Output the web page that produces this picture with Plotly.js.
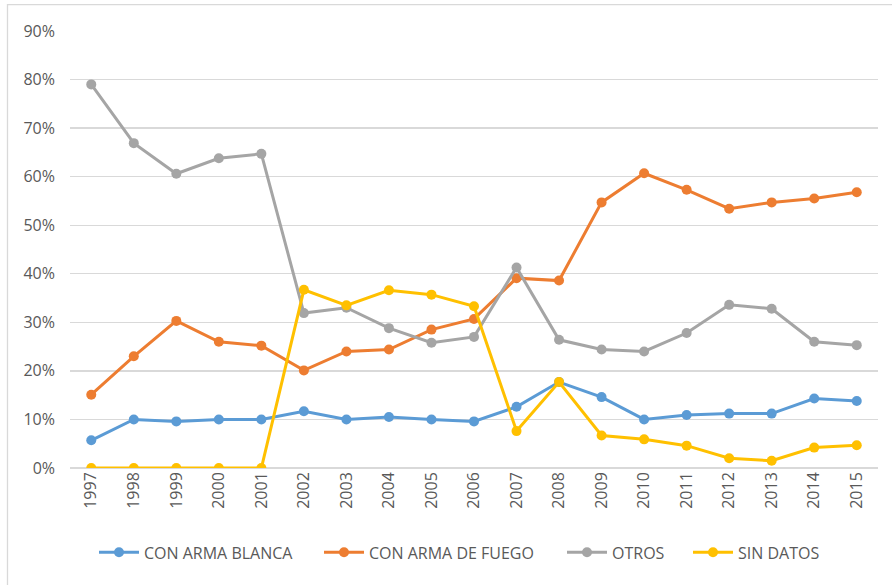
<!DOCTYPE html>
<html>
<head>
<meta charset="utf-8">
<script src="https://cdn.plot.ly/plotly-3.0.1.min.js"></script>
<style>
html,body{margin:0;padding:0;background:#fff;}
#chart{width:892px;height:585px;}
</style>
</head>
<body>
<div id="chart"></div>
<script>
const years = ["1997","1998","1999","2000","2001","2002","2003","2004","2005","2006","2007","2008","2009","2010","2011","2012","2013","2014","2015"];
const armaBlanca = [0.057,0.100,0.096,0.100,0.100,0.117,0.100,0.105,0.100,0.096,0.126,0.177,0.146,0.100,0.109,0.112,0.112,0.143,0.138];
const armaFuego = [0.151,0.230,0.303,0.260,0.252,0.201,0.240,0.244,0.285,0.307,0.391,0.386,0.547,0.607,0.573,0.534,0.547,0.555,0.568];
const otros = [0.790,0.669,0.606,0.638,0.647,0.319,0.330,0.288,0.258,0.270,0.413,0.264,0.244,0.240,0.278,0.336,0.328,0.260,0.253];
const sinDatos = [0,0,0,0,0,0.367,0.335,0.366,0.357,0.333,0.076,0.177,0.067,0.059,0.046,0.020,0.015,0.042,0.047];
const seriesNames = ["CON ARMA BLANCA","CON ARMA DE FUEGO","OTROS","SIN DATOS"];
const seriesColors = ["#5B9BD5","#ED7D31","#A5A5A5","#FFC000"];
const seriesValues = [armaBlanca, armaFuego, otros, sinDatos];
const legendIds = ["legend","legend2","legend3","legend4"];

const traces = seriesValues.map((vals, i) => ({
  type: 'scatter',
  mode: 'lines+markers',
  name: seriesNames[i],
  legend: legendIds[i],
  x: years,
  y: vals,
  line: {color: seriesColors[i], width: 3},
  marker: {color: seriesColors[i], size: 10, symbol: 'circle'},
  hoverinfo: 'x+y+name'
}));

const fontFam = '"Open Sans", "DejaVu Sans", sans-serif';
const L = 70, R = 14, T = 31, B = 116.5;
const pw = 892 - L - R, ph = 585 - T - B;
const px = v => (v - L) / pw;
const py = v => (585 - B - v) / ph;

// legend text start positions (px) in the reference
const legendTextStart = [144, 369, 612, 738];

const layout = {
  width: 892, height: 585,
  margin: {l: L, r: R, t: T, b: B, pad: 0},
  paper_bgcolor: '#ffffff',
  plot_bgcolor: '#ffffff',
  font: {family: fontFam, size: 16, color: '#595959'},
  showlegend: true,
  xaxis: {
    type: 'category',
    range: [-0.5, years.length - 0.5],
    tickangle: -90,
    showgrid: false,
    showline: false,
    zeroline: false,
    ticks: '',
    tickfont: {family: fontFam, size: 16, color: '#595959'},
    fixedrange: true
  },
  yaxis: {
    range: [0, 0.9],
    dtick: 0.1,
    tickformat: '.0%',
    showgrid: true,
    gridcolor: '#D9D9D9',
    gridwidth: 1.3,
    zeroline: true,
    zerolinecolor: '#D9D9D9',
    zerolinewidth: 1.3,
    showline: false,
    ticks: '',
    ticklabelstandoff: 14,
    tickfont: {family: fontFam, size: 16, color: '#595959'},
    fixedrange: true
  },
  shapes: [{
    type: 'rect', xref: 'paper', yref: 'paper',
    x0: px(7.5), x1: px(905), y0: py(600), y1: py(4.5),
    line: {color: '#D9D9D9', width: 1.3},
    fillcolor: 'rgba(0,0,0,0)',
    layer: 'below'
  }]
};

legendIds.forEach((id, i) => {
  layout[id] = {
    orientation: 'h',
    x: px(legendTextStart[i] - 50), xanchor: 'left',
    y: py(553), yanchor: 'middle',
    font: {family: fontFam, size: 16, color: '#595959'},
    itemwidth: 40,
    bgcolor: 'rgba(0,0,0,0)'
  };
});

Plotly.newPlot('chart', traces, layout, {displayModeBar: false, staticPlot: true});
</script>
</body>
</html>
